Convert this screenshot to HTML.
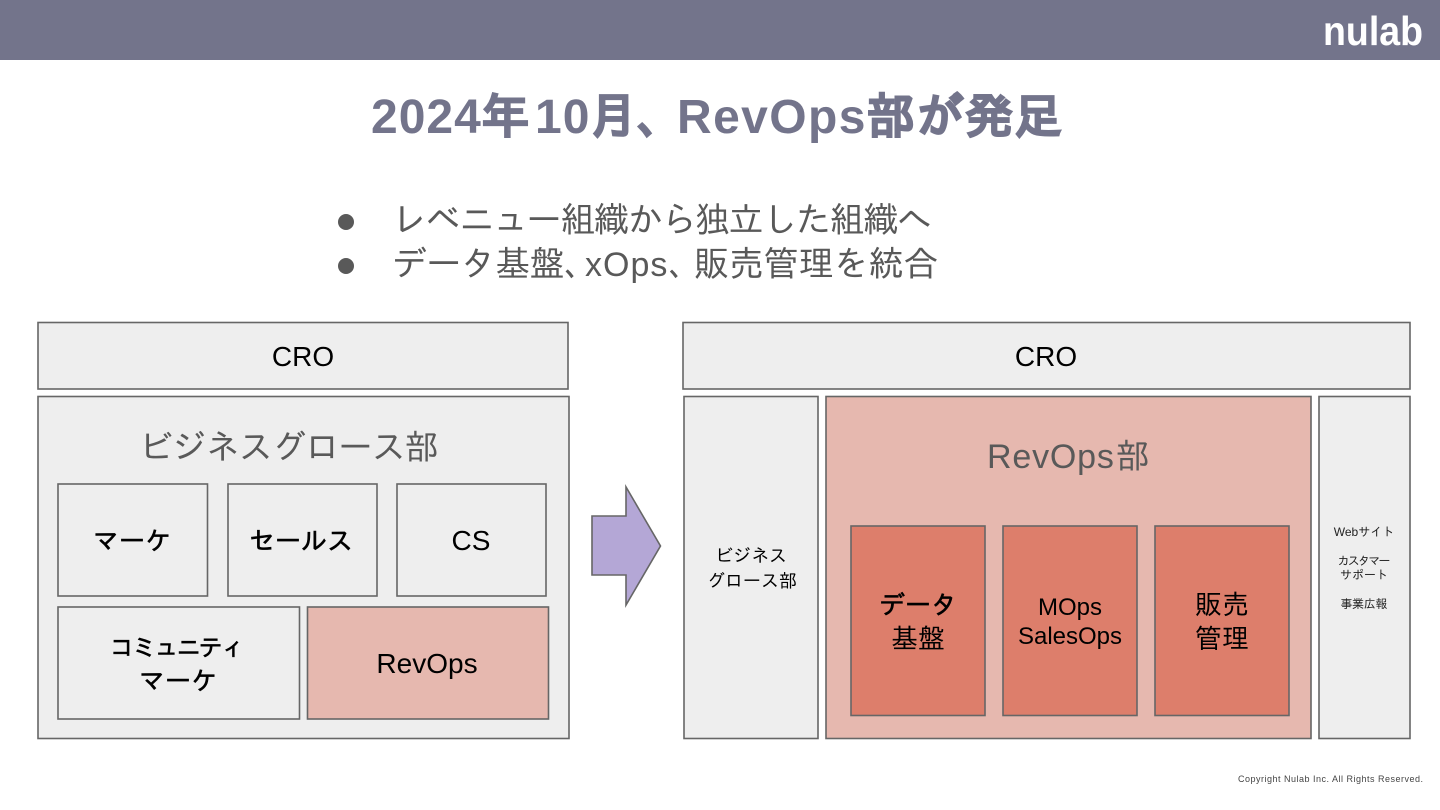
<!DOCTYPE html>
<html lang="ja">
<head>
<meta charset="utf-8">
<style>
html,body{margin:0;padding:0;width:1440px;height:810px;background:#fff;overflow:hidden}
svg{display:block}
text{font-family:"Liberation Sans","IPAGothic","Noto Sans CJK JP",sans-serif}
.b{fill:#eeeeee;stroke:#666666;stroke-width:1.6}
.p{fill:#e6b8af;stroke:#666666;stroke-width:1.6}
.r{fill:#dd7e6b;stroke:#666666;stroke-width:1.6}
.h{stroke:#000;stroke-width:.6}
.t{stroke:#73748b;stroke-width:1.4}
</style>
</head>
<body>
<svg width="1440" height="810" viewBox="0 0 1440 810" xmlns="http://www.w3.org/2000/svg">
<rect x="0" y="0" width="1440" height="60" fill="#73748b"/>
<text x="1323" y="45" font-size="41" font-weight="700" fill="#fff" textLength="100" lengthAdjust="spacingAndGlyphs">nulab</text>

<text y="133" font-size="48" font-weight="700" fill="#73748b">
<tspan x="371" letter-spacing="1">2024</tspan><tspan x="481" class="t">年</tspan><tspan x="535" letter-spacing="1">10</tspan><tspan x="589" class="t">月</tspan><tspan x="637" class="t">、</tspan><tspan x="677" letter-spacing="1.4">RevOps</tspan><tspan x="867" class="t">部</tspan><tspan x="916" class="t">が</tspan><tspan x="965" class="t">発</tspan><tspan x="1014" class="t">足</tspan>
</text>

<circle cx="346" cy="222" r="8" fill="#595959"/>
<text x="392" y="232" font-size="35" fill="#595959" textLength="540" lengthAdjust="spacing">レベニュー組織から独立した組織へ</text>
<circle cx="346" cy="266" r="8" fill="#595959"/>
<text y="276" font-size="35" fill="#595959"><tspan x="392" letter-spacing="-.6">データ基盤、</tspan><tspan x="585" font-size="34" letter-spacing="1">xOps、</tspan><tspan x="694" letter-spacing="-.1">販売管理を統合</tspan></text>

<rect class="b" x="38" y="322.5" width="530" height="66.500"/>
<text x="303" y="366" font-size="28" fill="#000" text-anchor="middle">CRO</text>
<rect class="b" x="38" y="396.5" width="531" height="342"/>
<text x="139" y="459" font-size="34" fill="#595959" textLength="300" lengthAdjust="spacing">ビジネスグロース部</text>

<rect class="b" x="58" y="484" width="149.500" height="112"/>
<text x="132" y="550" font-size="26" class="h" fill="#000" text-anchor="middle">マーケ</text>
<rect class="b" x="228" y="484" width="149" height="112"/>
<text x="301" y="550" font-size="26" class="h" fill="#000" text-anchor="middle">セールス</text>
<rect class="b" x="397" y="484" width="149" height="112"/>
<text x="471" y="550" font-size="28" fill="#000" text-anchor="middle">CS</text>
<rect class="b" x="58" y="607" width="241.500" height="112"/>
<text x="110" y="656" font-size="24" class="h" fill="#000" textLength="135" lengthAdjust="spacing">コミュニティ</text>
<text x="178" y="690" font-size="26" class="h" fill="#000" text-anchor="middle">マーケ</text>
<rect class="p" x="307.500" y="607" width="241" height="112"/>
<text x="427" y="673" font-size="28" fill="#000" text-anchor="middle">RevOps</text>

<polygon points="592,516 626,516 626,487 660.500,546 626,605 626,575 592,575" fill="#b4a7d6" stroke="#666666" stroke-width="1.6"/>

<rect class="b" x="683" y="322.5" width="727" height="66.500"/>
<text x="1046" y="366" font-size="28" fill="#000" text-anchor="middle">CRO</text>
<rect class="b" x="684" y="396.5" width="134" height="342"/>
<text x="751" y="562" font-size="18" fill="#000" text-anchor="middle">ビジネス</text>
<text x="752" y="587" font-size="18" fill="#000" text-anchor="middle">グロース部</text>

<rect class="p" x="826" y="396.5" width="485" height="342"/>
<text y="468" font-size="34" fill="#595959"><tspan x="987" letter-spacing=".8">RevOps</tspan><tspan x="1116">部</tspan></text>
<rect class="r" x="851" y="526" width="134" height="189.500"/>
<text x="918" y="614" font-size="26" class="h" fill="#000" text-anchor="middle">データ</text>
<text x="918" y="648" font-size="27" fill="#000" text-anchor="middle">基盤</text>
<rect class="r" x="1003" y="526" width="134" height="189.500"/>
<text x="1070" y="615" font-size="24" fill="#000" text-anchor="middle">MOps</text>
<text x="1070" y="644" font-size="24" fill="#000" text-anchor="middle">SalesOps</text>
<rect class="r" x="1155" y="526" width="134" height="189.500"/>
<text x="1222" y="614" font-size="27" fill="#000" text-anchor="middle">販売</text>
<text x="1222" y="648" font-size="27" fill="#000" text-anchor="middle">管理</text>

<rect class="b" x="1319" y="396.5" width="91" height="342"/>
<text x="1364" y="536" font-size="12" fill="#222" text-anchor="middle">Webサイト</text>
<text x="1364" y="565" font-size="12" fill="#222" text-anchor="middle" textLength="53" lengthAdjust="spacing">カスタマー</text>
<text x="1364" y="579" font-size="12" fill="#222" text-anchor="middle">サポート</text>
<text x="1364" y="608" font-size="12" fill="#222" text-anchor="middle" textLength="47" lengthAdjust="spacing">事業広報</text>

<text x="1238" y="782" font-size="9" fill="#444" textLength="185" lengthAdjust="spacing">Copyright Nulab Inc. All Rights Reserved.</text>
</svg>
</body>
</html>
